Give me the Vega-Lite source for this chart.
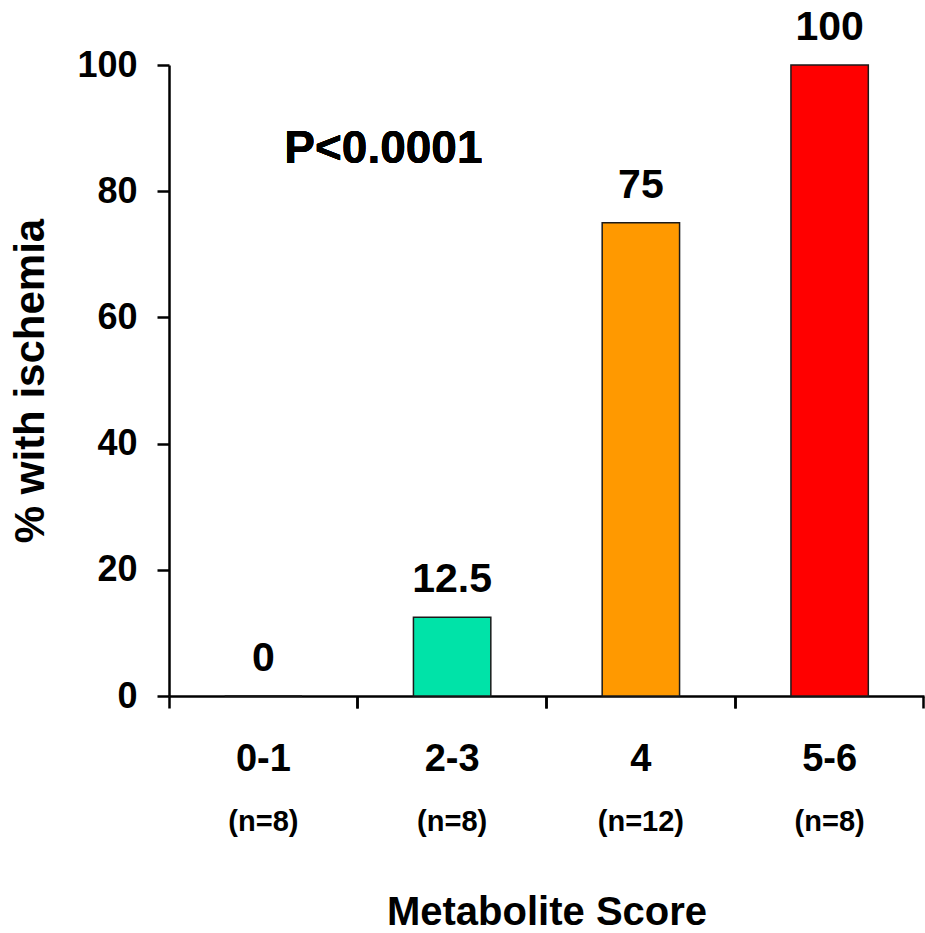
{
  "$schema": "https://vega.github.io/schema/vega-lite/v6.json",
  "autosize": "none",
  "width": 755,
  "height": 631,
  "padding": {"left": 169, "top": 65, "right": 1, "bottom": 237},
  "background": "white",
  "config": {
    "font": "Liberation Sans",
    "view": {"stroke": null},
    "axis": {"labelFont": "Liberation Sans", "titleFont": "Liberation Sans", "labelFontWeight": "bold", "titleFontWeight": "bold", "labelColor": "black", "titleColor": "black", "domainColor": "black", "tickColor": "black", "grid": false}
  },
  "data": {
    "values": [
      {"group": "0-1|(n=8)", "pct": 0, "label": "0", "color": "#00E3A8"},
      {"group": "2-3|(n=8)", "pct": 12.5, "label": "12.5", "color": "#00E3A8"},
      {"group": "4|(n=12)", "pct": 75, "label": "75", "color": "#FF9900"},
      {"group": "5-6|(n=8)", "pct": 100, "label": "100", "color": "#FF0000"}
    ]
  },
  "resolve": {"axis": {"x": "independent"}},
  "layer": [
    {
      "mark": {"type": "bar", "stroke": "#1a1a1a", "strokeWidth": 1.5},
      "encoding": {
        "x": {
          "field": "group", "type": "nominal", "sort": null,
          "scale": {"paddingInner": 0.59, "paddingOuter": 0.295},
          "axis": {"orient": "bottom", "title": null, "labelAngle": 0, "labelExpr": "split(datum.value, '|')[0]", "labelFontSize": 38, "labelBaseline": "alphabetic", "ticks": false, "tickSize": 0, "labelPadding": 74, "domain": true, "domainWidth": 2.5}
        },
        "y": {
          "field": "pct", "type": "quantitative",
          "scale": {"domain": [0, 100], "nice": false},
          "axis": {"title": "% with ischemia", "titleFontSize": 42, "titlePadding": 24, "values": [0, 20, 40, 60, 80, 100], "labelFontSize": 36, "tickSize": 12, "tickWidth": 2.5, "domainWidth": 2.5, "labelPadding": 20}
        },
        "color": {"field": "color", "type": "nominal", "scale": null}
      }
    },
    {
      "mark": {"type": "text", "fontSize": 41, "fontWeight": "bold", "baseline": "alphabetic", "dy": -25, "color": "black"},
      "encoding": {
        "x": {
          "field": "group", "type": "nominal", "sort": null,
          "axis": {"orient": "bottom", "title": "Metabolite Score", "titleFontSize": 40, "titlePadding": 56, "labelAngle": 0, "labelExpr": "split(datum.value, '|')[1]", "labelFontSize": 29, "labelBaseline": "alphabetic", "ticks": false, "tickSize": 0, "labelPadding": 134, "domain": false}
        },
        "y": {"field": "pct", "type": "quantitative"},
        "text": {"field": "label"}
      }
    },
    {
      "mark": {"type": "bar", "opacity": 0},
      "encoding": {
        "x": {
          "field": "group", "type": "nominal", "sort": null,
          "axis": {"orient": "bottom", "title": null, "labels": false, "domain": false, "ticks": true, "tickSize": 12, "tickWidth": 2.5, "bandPosition": -0.7195}
        },
        "y": {"field": "pct", "type": "quantitative"}
      }
    },
    {
      "mark": {"type": "bar", "opacity": 0},
      "encoding": {
        "x": {
          "field": "group", "type": "nominal", "sort": null,
          "axis": {"orient": "bottom", "title": null, "labels": false, "domain": false, "ticks": true, "tickSize": 12, "tickWidth": 2.5, "bandPosition": 1.7195}
        },
        "y": {"field": "pct", "type": "quantitative"}
      }
    },
    {
      "mark": {"type": "text", "fontSize": 46, "fontWeight": "bold", "baseline": "alphabetic", "align": "center", "dx": 120, "color": "black"},
      "encoding": {
        "x": {"datum": "0-1|(n=8)", "type": "nominal", "axis": null},
        "y": {"datum": 84.5, "type": "quantitative"},
        "text": {"value": "P<0.0001"}
      }
    }
  ]
}
